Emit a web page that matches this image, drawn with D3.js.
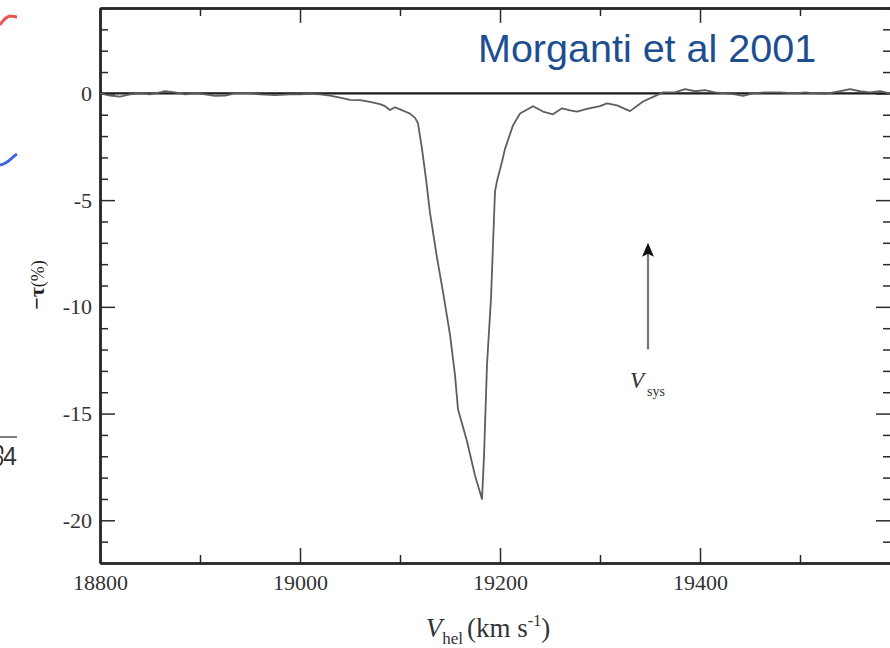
<!DOCTYPE html>
<html>
<head>
<meta charset="utf-8">
<script src="https://cdn.jsdelivr.net/npm/d3@7"></script>
<style>
  html, body { margin: 0; padding: 0; background: #fff; overflow: hidden; }
  svg { display: block; }
</style>
</head>
<body>
<svg id="chart" width="890" height="648"></svg>
<script>
// ---- data ----
const velocity = [18800,18810,18820,18830,18840,18850,18860,18865,18875,18885,18895,18905,18915,18925,18935,18945,18960,18975,18990,19000,19010,19020,19030,19040,19050,19060,19070,19080,19085,19090,19095,19100,19105,19110,19115,19118,19122,19126,19130,19137,19143,19150,19155,19158,19167,19175,19182,19184,19187,19191,19195,19197,19202,19205,19213,19220,19233,19243,19253,19262,19270,19277,19287,19300,19307,19317,19330,19343,19357,19363,19375,19385,19395,19405,19415,19425,19435,19443,19453,19465,19480,19495,19505,19515,19525,19540,19550,19560,19570,19580,19590];
const negTau = [0,-0.1,-0.15,-0.05,0,-0.05,0.05,0.1,0.05,-0.05,0,-0.05,-0.12,-0.1,0,0.02,-0.05,-0.08,-0.05,-0.05,-0.02,-0.05,-0.1,-0.2,-0.3,-0.32,-0.4,-0.5,-0.6,-0.78,-0.65,-0.75,-0.85,-0.95,-1.15,-1.4,-2.6,-4.0,-5.6,-7.7,-9.3,-11.3,-13.2,-14.8,-16.3,-17.9,-19.0,-17.0,-12.7,-9.6,-4.6,-4.1,-3.2,-2.6,-1.5,-0.94,-0.6,-0.85,-0.98,-0.7,-0.8,-0.85,-0.73,-0.6,-0.47,-0.56,-0.83,-0.38,-0.08,0.05,0.05,0.2,0.1,0.15,0.05,0.0,-0.05,-0.12,0,0.05,0.05,0,0.05,0,-0.02,0.1,0.2,0.1,0.05,0.1,0];
const xMajorTicks = [18800, 19000, 19200, 19400];
const xMinorTicks = [18900, 19100, 19300, 19500];
const yMajorTicks = [0, -5, -10, -15, -20];
const yMinorTicks = [4,3,2,1,-1,-2,-3,-4,-6,-7,-8,-9,-11,-12,-13,-14,-16,-17,-18,-19,-21];
const vSys = 19348;
const arrowFromTo = [-12, -7];
const annotation = "Morganti et al 2001";

// ---- layout ----
const svg = d3.select("#chart");
const x = d3.scaleLinear().domain([18800, 19591]).range([100, 891]);
const y = d3.scaleLinear().domain([-22, 4]).range([563, 8]);
const axisColor = "#2a2a2a";
const serif = "'Liberation Serif', 'Times New Roman', serif";
const fmt = d => String(d); // plain hyphen minus as in the reference

// fragments of the neighbouring figure on the left edge
svg.append("path").attr("d", "M0,25 C3,20 6,17 10,16 C13,16 15,17 17,17")
  .attr("fill", "none").attr("stroke", "#e8544e").attr("stroke-width", 3);
svg.append("path").attr("d", "M0,165 C5,164 9,161 12,158 C14,156 15,155 17,154")
  .attr("fill", "none").attr("stroke", "#3a63e8").attr("stroke-width", 3);
svg.append("line").attr("x1", 0).attr("x2", 17).attr("y1", 437).attr("y2", 437)
  .attr("stroke", "#555").attr("stroke-width", 1.5);
// sliver of a clipped digit, then the "4"
svg.append("path").attr("d", "M0,446 C2,447 3,450 2,454 M0,456 C3,458 3,462 0,465")
  .attr("fill", "none").attr("stroke", "#333").attr("stroke-width", 2);
svg.append("text").attr("x", 17).attr("y", 465).attr("text-anchor", "end")
  .attr("font-family", "'Liberation Sans', Arial, sans-serif").attr("font-size", 25)
  .attr("fill", "#333").text("4");

const plot = svg.append("g");

function styleAxis(g) {
  g.selectAll(".domain").attr("stroke", axisColor).attr("stroke-width", 2.5);
  g.selectAll(".tick line").attr("stroke", axisColor).attr("stroke-width", 1.5);
  g.selectAll("text").attr("font-family", serif).attr("font-size", 22).attr("fill", "#333");
}
// bottom
plot.append("g").attr("transform", `translate(0,${y(-22)})`)
  .call(d3.axisBottom(x).tickValues(xMinorTicks).tickSize(-8).tickSizeOuter(0).tickFormat(""))
  .call(styleAxis);
plot.append("g").attr("transform", `translate(0,${y(-22)})`)
  .call(d3.axisBottom(x).tickValues(xMajorTicks).tickSize(-15).tickSizeOuter(0).tickPadding(11).tickFormat(fmt))
  .call(styleAxis);
// top
plot.append("g").attr("transform", `translate(0,${y(4)})`)
  .call(d3.axisTop(x).tickValues(xMinorTicks).tickSize(-8).tickSizeOuter(0).tickFormat(""))
  .call(styleAxis);
plot.append("g").attr("transform", `translate(0,${y(4)})`)
  .call(d3.axisTop(x).tickValues(xMajorTicks).tickSize(-15).tickSizeOuter(0).tickFormat(""))
  .call(styleAxis);
// left
plot.append("g").attr("transform", `translate(${x(18800)},0)`)
  .call(d3.axisLeft(y).tickValues(yMinorTicks).tickSize(-8).tickSizeOuter(0).tickFormat(""))
  .call(styleAxis);
plot.append("g").attr("transform", `translate(${x(18800)},0)`)
  .call(d3.axisLeft(y).tickValues(yMajorTicks).tickSize(-15).tickSizeOuter(0).tickPadding(8).tickFormat(fmt))
  .call(styleAxis);
// right
plot.append("g").attr("transform", `translate(${x(19591)},0)`)
  .call(d3.axisRight(y).tickValues(yMinorTicks).tickSize(-8).tickSizeOuter(0).tickFormat(""))
  .call(styleAxis);
plot.append("g").attr("transform", `translate(${x(19591)},0)`)
  .call(d3.axisRight(y).tickValues(yMajorTicks).tickSize(-15).tickSizeOuter(0).tickFormat(""))
  .call(styleAxis);

// zero line
plot.append("line").attr("x1", x(18800)).attr("x2", x(19591))
  .attr("y1", y(0)).attr("y2", y(0)).attr("stroke", "#1a1a1a").attr("stroke-width", 2.2);

// spectrum
const data = velocity.map((v, i) => ({ v, t: negTau[i] }));
plot.append("path").datum(data)
  .attr("fill", "none").attr("stroke", "#5e5e5e").attr("stroke-width", 1.8)
  .attr("stroke-linejoin", "round")
  .attr("d", d3.line().x(d => x(d.v)).y(d => y(d.t)));

// V_sys arrow
const ax = x(vSys), tipY = y(arrowFromTo[1]);
plot.append("line").attr("x1", ax).attr("x2", ax)
  .attr("y1", y(arrowFromTo[0])).attr("y2", tipY + 10)
  .attr("stroke", "#777").attr("stroke-width", 2.2);
plot.append("path")
  .attr("d", `M${ax},${tipY} L${ax - 6},${tipY + 14} L${ax},${tipY + 11} L${ax + 6},${tipY + 14} Z`)
  .attr("fill", "#111");
const vs = plot.append("text").attr("x", ax - 18).attr("y", 388)
  .attr("font-family", serif).attr("font-size", 23).attr("fill", "#333");
vs.append("tspan").attr("font-style", "italic").text("V");
vs.append("tspan").attr("font-size", 14).attr("dy", 8).attr("dx", 3).text("sys");

// annotation
svg.append("text").attr("x", 478).attr("y", 62)
  .attr("font-family", "'Liberation Sans', Arial, sans-serif").attr("font-size", 39.5)
  .attr("fill", "#1d4e8f").text(annotation);

// axis titles
const xt = svg.append("text").attr("x", 488).attr("y", 637).attr("text-anchor", "middle")
  .attr("font-family", serif).attr("font-size", 27).attr("fill", "#333");
xt.append("tspan").attr("font-style", "italic").text("V");
xt.append("tspan").attr("font-size", 17).attr("dy", 7).text("hel");
xt.append("tspan").attr("dy", -7).attr("dx", 4).text("(km s");
xt.append("tspan").attr("font-size", 16).attr("dy", -11).text("-1");
xt.append("tspan").attr("dy", 11).text(")");

const yt = svg.append("text").attr("transform", "translate(44,285) rotate(-90)")
  .attr("text-anchor", "middle").attr("font-family", serif).attr("font-size", 20).attr("fill", "#222");
yt.append("tspan").attr("font-weight", "bold").attr("font-size", 22).text("−τ");
yt.append("tspan").attr("font-size", 18).text("(%)");
</script>
</body>
</html>
